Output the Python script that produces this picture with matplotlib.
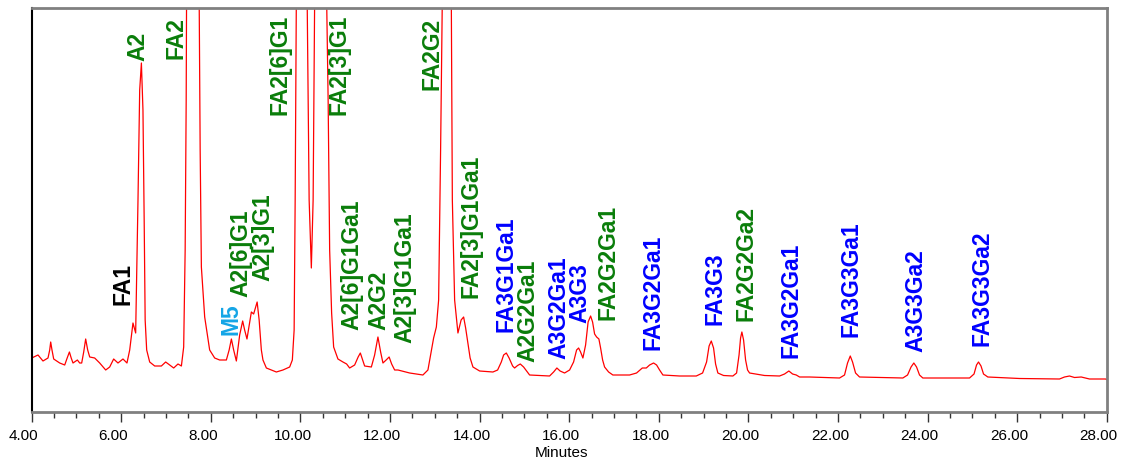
import numpy as np
import matplotlib
matplotlib.use('Agg')
import matplotlib.pyplot as plt
import matplotlib.transforms as mtransforms
from matplotlib.ticker import MultipleLocator, FormatStrFormatter

# Chromatogram trace (minutes, detector response)
time_min = [
    4.000, 4.141, 4.252, 4.364, 4.402, 4.424, 4.453, 4.491, 4.625, 4.737,
    4.792, 4.842, 4.882, 4.922, 5.020, 5.071, 5.116, 5.161, 5.205, 5.250,
    5.295, 5.406, 5.518, 5.652, 5.741, 5.830, 5.926, 6.038, 6.127, 6.188,
    6.261, 6.321, 6.373, 6.411, 6.449, 6.484, 6.511, 6.533, 6.567, 6.634,
    6.746, 6.895, 6.991, 7.080, 7.170, 7.266, 7.342, 7.393, 7.426, 7.449,
    7.482, 7.549, 7.616, 7.683, 7.739, 7.761, 7.788, 7.862, 7.973, 8.085,
    8.196, 8.346, 8.408, 8.458, 8.509, 8.569, 8.643, 8.710, 8.754, 8.806,
    8.904, 8.955, 9.033, 9.078, 9.127, 9.163, 9.239, 9.462, 9.609, 9.759,
    9.819, 9.859, 9.882, 9.908, 9.982, 10.071, 10.150, 10.194, 10.243, 10.283,
    10.317, 10.429, 10.518, 10.585, 10.618, 10.652, 10.696, 10.741, 10.837, 10.949,
    11.031, 11.098, 11.210, 11.288, 11.337, 11.388, 11.433, 11.583, 11.656, 11.730,
    11.790, 11.842, 11.913, 11.980, 12.036, 12.103, 12.177, 12.438, 12.734, 12.846,
    12.906, 12.973, 13.034, 13.085, 13.129, 13.167, 13.219, 13.286, 13.368, 13.391,
    13.442, 13.516, 13.587, 13.643, 13.688, 13.739, 13.788, 13.851, 14.000, 14.297,
    14.402, 14.484, 14.536, 14.596, 14.658, 14.737, 14.781, 14.848, 14.908, 14.982,
    15.116, 15.562, 15.652, 15.725, 15.797, 15.897, 16.009, 16.098, 16.165, 16.210,
    16.254, 16.306, 16.366, 16.422, 16.478, 16.522, 16.567, 16.612, 16.663, 16.701,
    16.746, 16.790, 16.880, 16.975, 17.348, 17.504, 17.632, 17.721, 17.795, 17.884,
    17.951, 18.018, 18.092, 18.464, 18.837, 18.978, 19.067, 19.123, 19.172, 19.223,
    19.268, 19.319, 19.446, 19.654, 19.737, 19.792, 19.826, 19.855, 19.893, 19.938,
    19.982, 20.027, 20.362, 20.696, 20.808, 20.904, 20.987, 21.069, 21.143, 21.366,
    22.036, 22.147, 22.214, 22.275, 22.326, 22.393, 22.482, 22.929, 23.449, 23.554,
    23.632, 23.694, 23.755, 23.821, 23.895, 24.380, 24.938, 25.038, 25.094, 25.138,
    25.194, 25.250, 25.346, 26.054, 26.946, 27.058, 27.170, 27.281, 27.431, 27.616,
    27.973, 28.000,
]
signal = [
    55, 58, 52, 55, 63, 71, 63, 54, 50, 48,
    55, 61, 55, 50, 53, 50, 50, 61, 74, 63,
    56, 55, 50, 43, 46, 54, 50, 54, 50, 63,
    90, 80, 213, 323, 350, 303, 193, 93, 63, 51,
    47, 47, 51, 48, 45, 49, 47, 66, 163, 313,
    713, 1413, 1513, 913, 413, 263, 146, 96, 63, 55,
    53, 53, 63, 74, 63, 52, 78, 92, 83, 74,
    101, 99, 111, 93, 63, 53, 45, 41, 43, 46,
    53, 83, 213, 413, 1213, 1213, 413, 213, 145, 213,
    413, 1313, 1113, 413, 313, 163, 100, 66, 54, 51,
    49, 45, 48, 56, 60, 53, 47, 46, 58, 76,
    61, 50, 53, 56, 49, 43, 43, 40, 38, 43,
    58, 75, 86, 113, 263, 413, 1313, 1513, 413, 213,
    113, 80, 93, 96, 85, 70, 55, 46, 42, 41,
    43, 51, 58, 60, 55, 47, 45, 47.5, 49, 46,
    38, 37, 41, 45, 42, 40, 43, 51, 63, 65,
    61, 55, 68, 91, 97, 91, 79, 76, 74, 65,
    53, 46, 41, 38, 38, 40, 45, 45, 48, 50,
    48, 43, 38, 37, 37, 40, 51, 67, 72, 65,
    49, 40, 37.5, 37, 40, 58, 75, 81, 73, 53,
    43, 40, 37.5, 37, 39, 42, 39, 38, 36, 36,
    35, 38, 50, 57, 51, 40, 36, 35.5, 35, 38,
    46, 50, 46, 38, 35, 35, 35, 39, 48, 51,
    47, 39, 36, 34.5, 34, 36, 37, 35.5, 36, 34,
    34, 33.5,
]

# Peak annotations
peak_names = [
    'FA1', 'A2', 'FA2', 'M5', 'A2[6]G1', 'A2[3]G1', 'FA2[6]G1', 'FA2[3]G1',
    'A2[6]G1Ga1', 'A2G2', 'A2[3]G1Ga1', 'FA2G2', 'FA2[3]G1Ga1', 'FA3G1Ga1',
    'A2G2Ga1', 'A3G2Ga1', 'A3G3', 'FA2G2Ga1', 'FA3G2Ga1', 'FA3G3', 'FA2G2Ga2',
    'FA3G2Ga1', 'FA3G3Ga1', 'A3G3Ga2', 'FA3G3Ga2',
]
peak_times = [
    6.03, 6.37, 7.23, 8.44, 8.67, 9.16, 9.54, 10.85,
    11.15, 11.75, 12.33, 12.94, 13.80, 14.59,
    15.08, 15.76, 16.24, 16.86, 17.86, 19.26, 19.95,
    20.96, 22.30, 23.75, 25.22,
]
peak_groups = [
    'core', 'bi', 'bi', 'mannose', 'bi', 'bi', 'bi', 'bi',
    'bi', 'bi', 'bi', 'bi', 'bi', 'tri',
    'bi', 'tri', 'tri', 'bi', 'tri', 'tri', 'bi',
    'tri', 'tri', 'tri', 'tri',
]

# Layout: height at which each label starts
label_base = [
    108, 352, 354, 78, 116, 132, 298, 298,
    83, 83, 70, 323, 115, 81,
    51, 54, 90, 93, 63, 88, 92,
    55, 76, 61, 67,
]
group_colors = {'core': 'black', 'mannose': '#14a5e6', 'bi': '#0a7d0a', 'tri': '#0000ff'}

fig = plt.figure(figsize=(11.22, 4.61), dpi=100)
ax = fig.add_axes([31.7 / 1122, 1 - 412 / 461, 1075 / 1122, 403.7 / 461])

ax.plot(time_min, signal, color='#ff0000', lw=0.9)

for name, t, grp, yb in zip(peak_names, peak_times, peak_groups, label_base):
    ax.text(t, yb, name, rotation=90, ha='center', va='bottom',
            fontsize=16.5, fontweight='bold', family='Liberation Sans',
            color=group_colors[grp])

ax.set_xlim(4, 28)
ax.set_ylim(1, 404.7)
ax.set_yticks([])

ax.xaxis.set_major_locator(MultipleLocator(2))
ax.xaxis.set_minor_locator(MultipleLocator(0.5))
ax.xaxis.set_major_formatter(FormatStrFormatter('%.2f'))
ax.tick_params(axis='x', which='major', length=7, width=1, color='#333333',
               labelsize=11, pad=5)
ax.tick_params(axis='x', which='minor', length=4, width=1, color='#333333')
for lab in ax.get_xticklabels():
    lab.set_family('Liberation Sans')
    lab.set_transform(lab.get_transform() +
                      mtransforms.ScaledTranslation(-0.08, 0, fig.dpi_scale_trans))

ax.set_xlabel('Minutes', fontsize=11, family='Liberation Sans')
ax.xaxis.set_label_coords(0.493, -0.085)

for side in ['top', 'right', 'bottom']:
    ax.spines[side].set_color('#808080')
    ax.spines[side].set_linewidth(2)
ax.spines['left'].set_color('black')
ax.spines['left'].set_linewidth(1.5)

plt.savefig('out.png', dpi=100)
